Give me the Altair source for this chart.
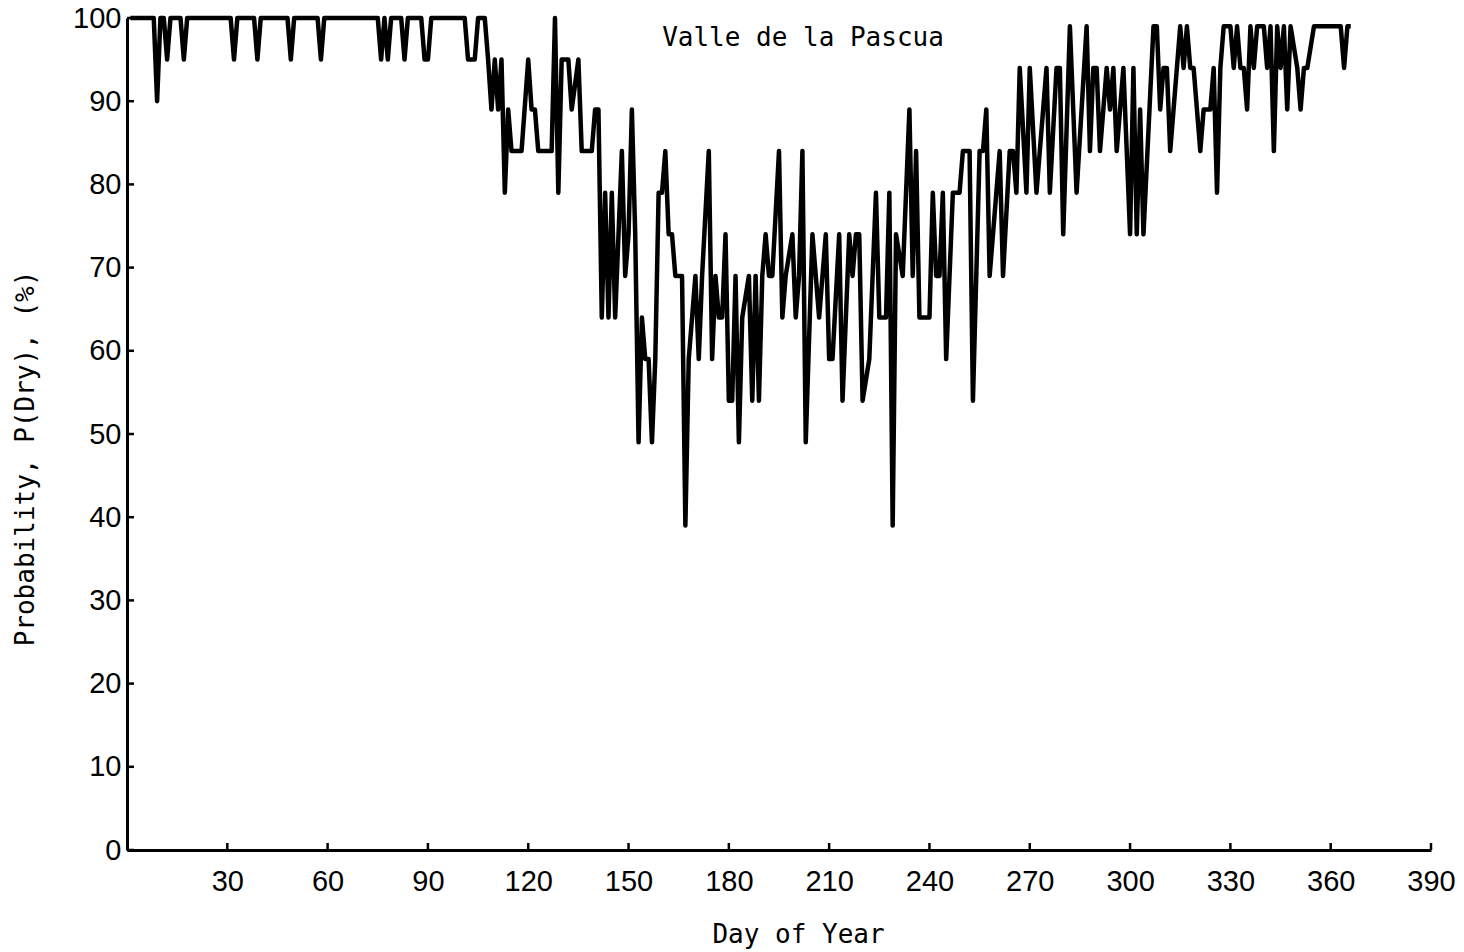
import altair as alt
import pandas as pd

# Vertices of the daily probability trace (day of year, P(Dry) %)
days = [1, 8, 9, 10, 11, 12, 13, 16, 17, 18, 31, 32, 33, 38, 39, 40, 48, 49, 50, 57, 58, 59,
        75, 76, 77, 78, 79, 82, 83, 84, 88, 89, 90, 91, 101, 102, 104, 105, 107,
        108, 109, 110, 111, 112, 113, 114, 115, 118, 120, 121, 122, 123, 127, 128, 129, 130,
        132, 133, 135, 136, 139, 140, 141, 142, 143, 144, 145, 146, 147, 148, 149, 150, 151,
        152, 153, 154, 155, 156, 157, 158, 159, 160, 161, 162, 163, 164, 166, 167, 168, 170,
        171, 172, 174, 175, 176, 177, 178, 179, 180, 181, 182, 183, 184, 186, 187, 188, 189,
        190, 191, 192, 193, 195, 196, 197, 199, 200, 201, 202, 203, 205, 207, 209, 210, 211,
        213, 214, 216, 217, 218, 219, 220, 222, 224, 225, 227, 228, 229, 230, 232, 234, 235,
        236, 237, 240, 241, 242, 243, 244, 245, 247, 249, 250, 252, 253, 255, 256, 257, 258,
        261, 262, 264, 265, 266, 267, 269, 270, 272, 275, 276, 278, 279, 280, 282, 284, 287,
        288, 289, 290, 291, 293, 294, 295, 296, 298, 300, 301, 302, 303, 304, 307, 308, 309,
        310, 311, 312, 314, 315, 316, 317, 318, 319, 321, 322, 324, 325, 326, 327, 328, 330,
        331, 332, 333, 334, 335, 336, 337, 338, 340, 341, 342, 343, 344, 345, 346, 347, 348,
        350, 351, 352, 353, 355, 363, 364, 365, 366]

probs = [100, 100, 90, 100, 100, 95, 100, 100, 95, 100, 100, 95, 100, 100, 95, 100, 100, 95, 100, 100, 95, 100,
         100, 95, 100, 95, 100, 100, 95, 100, 100, 95, 95, 100, 100, 95, 95, 100, 100,
         95, 89, 95, 89, 95, 79, 89, 84, 84, 95, 89, 89, 84, 84, 100, 79, 95,
         95, 89, 95, 84, 84, 89, 89, 64, 79, 64, 79, 64, 74, 84, 69, 74, 89,
         74, 49, 64, 59, 59, 49, 59, 79, 79, 84, 74, 74, 69, 69, 39, 59, 69,
         59, 69, 84, 59, 69, 64, 64, 74, 54, 54, 69, 49, 64, 69, 54, 69, 54,
         69, 74, 69, 69, 84, 64, 69, 74, 64, 69, 84, 49, 74, 64, 74, 59, 59,
         74, 54, 74, 69, 74, 74, 54, 59, 79, 64, 64, 79, 39, 74, 69, 89, 69,
         84, 64, 64, 79, 69, 69, 79, 59, 79, 79, 84, 84, 54, 84, 84, 89, 69,
         84, 69, 84, 84, 79, 94, 79, 94, 79, 94, 79, 94, 94, 74, 99, 79, 99,
         84, 94, 94, 84, 94, 89, 94, 84, 94, 74, 94, 74, 89, 74, 99, 99, 89,
         94, 94, 84, 94, 99, 94, 99, 94, 94, 84, 89, 89, 94, 79, 94, 99, 99,
         94, 99, 94, 94, 89, 99, 94, 99, 99, 94, 99, 84, 99, 94, 99, 89, 99,
         94, 89, 94, 94, 99, 99, 94, 99, 99]

x_ticks = [30, 60, 90, 120, 150, 180, 210, 240, 270, 300, 330, 360, 390]
y_ticks = [0, 10, 20, 30, 40, 50, 60, 70, 80, 90, 100]
station = ["Valle de la Pascua"]

W, H = 1304, 832
MONO = "DejaVu Sans Mono"
SANS = "Liberation Sans"

df = pd.DataFrame({"day": days, "p": probs})
xscale = alt.Scale(domain=[0, 390], nice=False, zero=False)
yscale = alt.Scale(domain=[0, 100], nice=False)

xaxis = alt.Axis(values=x_ticks, title="Day of Year", labelPadding=17, labelFlush=False,
                 titleX=671, titleY=84, titleBaseline="middle")
yaxis = alt.Axis(values=y_ticks, title="Probability, P(Dry), (%)", labelPadding=6, labelFlush=False,
                 titleX=-102, titleY=440, titleAngle=270, titleBaseline="middle")

line = alt.Chart(df).mark_line(color="black", strokeWidth=4.5, strokeJoin="round").encode(
    x=alt.X("day:Q", scale=xscale, axis=xaxis),
    y=alt.Y("p:Q", scale=yscale, axis=yaxis),
)

xt = alt.Chart(pd.DataFrame({"t": x_ticks})).mark_rule(color="black", strokeWidth=2.5).encode(
    x=alt.X("t:Q", scale=xscale, axis=xaxis),
    y=alt.value(H), y2=alt.value(H - 7),
)
yt = alt.Chart(pd.DataFrame({"t": y_ticks})).mark_rule(color="black", strokeWidth=2.5).encode(
    y=alt.Y("t:Q", scale=yscale, axis=yaxis),
    x=alt.value(0), x2=alt.value(7),
)

title = alt.Chart(pd.DataFrame({"name": station})).mark_text(
    font=MONO, fontSize=26, color="black", align="center", baseline="middle"
).encode(text="name:N", x=alt.value(676), y=alt.value(20))

chart = alt.layer(line, xt, yt, title).properties(
    width=W, height=H,
    padding={"left": 127, "top": 18, "right": 33, "bottom": 102},
    autosize=alt.AutoSizeParams(type="none"),
    background="white",
).configure_view(strokeWidth=0).configure_axis(
    domainColor="black", domainWidth=3, tickSize=0, grid=False,
    labelFont=SANS, labelFontSize=29, labelColor="black",
    titleFont=MONO, titleFontSize=26, titleColor="black", titleFontWeight="normal",
)

chart.save("out.html", embed_options={"renderer": "svg", "actions": False})
